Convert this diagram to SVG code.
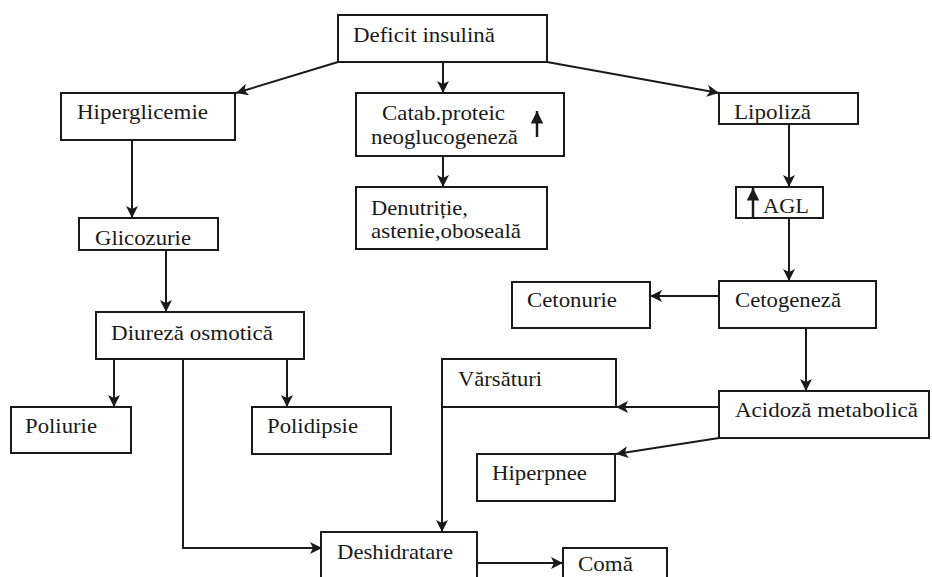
<svg xmlns="http://www.w3.org/2000/svg" width="932" height="577" viewBox="0 0 932 577">
  <style>
    .box { fill: #ffffff; stroke: #1a1a1a; stroke-width: 2; }
    .lbl { font-family: "Liberation Serif", "Times New Roman", serif; font-size: 21px; fill: #1a1a1a; }
    .edge { fill: none; stroke: #1a1a1a; stroke-width: 2; }
    .arr { marker-end: url(#head); }
    .up { fill: none; stroke: #1a1a1a; stroke-width: 2.5; marker-end: url(#headUp); }
  </style>
  <defs>
    <marker id="head" viewBox="0 0 10 10" refX="10" refY="5" markerWidth="6" markerHeight="6" orient="auto" markerUnits="strokeWidth">
      <path d="M0,0 L10,5 L0,10 L2.5,5 z" fill="#1a1a1a"/>
    </marker>
    <marker id="headUp" viewBox="0 0 10 10" refX="10" refY="5" markerWidth="5" markerHeight="5" orient="auto" markerUnits="strokeWidth">
      <path d="M0,0 L10,5 L0,10 z" fill="#1a1a1a"/>
    </marker>
  </defs>
  <rect width="932" height="577" fill="#ffffff"/>

  <!-- connectors -->
  <g id="connectors">
    <line class="edge arr" x1="338" y1="62" x2="236" y2="93"/>
    <line class="edge arr" x1="443" y1="62" x2="443" y2="93"/>
    <line class="edge arr" x1="547" y1="62" x2="719" y2="93"/>
    <line class="edge arr" x1="443" y1="156" x2="443" y2="187"/>
    <line class="edge arr" x1="789" y1="124" x2="789" y2="187"/>
    <line class="edge arr" x1="789" y1="218" x2="789" y2="281"/>
    <line class="edge arr" x1="132" y1="140" x2="132" y2="218"/>
    <line class="edge arr" x1="166" y1="250" x2="166" y2="312"/>
    <line class="edge arr" x1="114" y1="359" x2="114" y2="407"/>
    <line class="edge arr" x1="287" y1="359" x2="287" y2="407"/>
    <polyline class="edge arr" points="183,359 183,548 322,548"/>
    <line class="edge arr" x1="719" y1="296" x2="650" y2="296"/>
    <line class="edge arr" x1="806" y1="328" x2="806" y2="391"/>
    <line class="edge arr" x1="719" y1="407" x2="616" y2="407"/>
    <line class="edge arr" x1="719" y1="438" x2="616" y2="454"/>
    <polyline class="edge arr" points="616,407 442,407 442,532"/>
    <line class="edge arr" x1="477" y1="563" x2="563" y2="563"/>
  </g>

  <g id="deficit-insulina">
    <rect class="box" x="338" y="15" width="209" height="47"/>
    <text class="lbl" x="353" y="42" textLength="142" lengthAdjust="spacingAndGlyphs">Deficit insulină</text>
  </g>

  <g id="hiperglicemie">
    <rect class="box" x="61" y="93" width="174" height="47"/>
    <text class="lbl" x="77" y="119" textLength="131" lengthAdjust="spacingAndGlyphs">Hiperglicemie</text>
  </g>

  <g id="catabolism-proteic">
    <rect class="box" x="356" y="93" width="208" height="63"/>
    <text class="lbl" x="382" y="120" textLength="123" lengthAdjust="spacingAndGlyphs">Catab.proteic</text>
    <text class="lbl" x="371" y="144" textLength="147" lengthAdjust="spacingAndGlyphs">neoglucogeneză</text>
    <line class="up" x1="537" y1="137" x2="537" y2="111"/>
  </g>

  <g id="lipoliza">
    <rect class="box" x="719" y="93" width="139" height="31"/>
    <text class="lbl" x="734" y="119" textLength="77" lengthAdjust="spacingAndGlyphs">Lipoliză</text>
  </g>

  <g id="agl">
    <rect class="box" x="736" y="187" width="87" height="31"/>
    <line class="up" x1="753" y1="218" x2="753" y2="188"/>
    <text class="lbl" x="763" y="213" textLength="46" lengthAdjust="spacingAndGlyphs">AGL</text>
  </g>

  <g id="denutritie">
    <rect class="box" x="356" y="187" width="191" height="62"/>
    <text class="lbl" x="371" y="215" textLength="97" lengthAdjust="spacingAndGlyphs">Denutriție,</text>
    <text class="lbl" x="371" y="238" textLength="150" lengthAdjust="spacingAndGlyphs">astenie,oboseală</text>
  </g>

  <g id="glicozurie">
    <rect class="box" x="79" y="218" width="139" height="32"/>
    <text class="lbl" x="95" y="245" textLength="96" lengthAdjust="spacingAndGlyphs">Glicozurie</text>
  </g>

  <g id="cetonurie">
    <rect class="box" x="512" y="282" width="138" height="46"/>
    <text class="lbl" x="527" y="307" textLength="90" lengthAdjust="spacingAndGlyphs">Cetonurie</text>
  </g>

  <g id="cetogeneza">
    <rect class="box" x="719" y="281" width="157" height="47"/>
    <text class="lbl" x="735" y="307" textLength="106" lengthAdjust="spacingAndGlyphs">Cetogeneză</text>
  </g>

  <g id="diureza-osmotica">
    <rect class="box" x="96" y="312" width="208" height="47"/>
    <text class="lbl" x="111" y="340" textLength="162" lengthAdjust="spacingAndGlyphs">Diureză osmotică</text>
  </g>

  <g id="varsaturi">
    <polyline class="edge" points="442,407 442,359 616,359 616,407"/>
    <text class="lbl" x="458" y="386" textLength="84" lengthAdjust="spacingAndGlyphs">Vărsături</text>
  </g>

  <g id="acidoza-metabolica">
    <rect class="box" x="719" y="391" width="210" height="47"/>
    <text class="lbl" x="735" y="417" textLength="183" lengthAdjust="spacingAndGlyphs">Acidoză metabolică</text>
  </g>

  <g id="poliurie">
    <rect class="box" x="11" y="407" width="120" height="46"/>
    <text class="lbl" x="25" y="433" textLength="72" lengthAdjust="spacingAndGlyphs">Poliurie</text>
  </g>

  <g id="polidipsie">
    <rect class="box" x="252" y="407" width="139" height="47"/>
    <text class="lbl" x="267" y="433" textLength="91" lengthAdjust="spacingAndGlyphs">Polidipsie</text>
  </g>

  <g id="hiperpnee">
    <rect class="box" x="477" y="454" width="138" height="47"/>
    <text class="lbl" x="492" y="480" textLength="95" lengthAdjust="spacingAndGlyphs">Hiperpnee</text>
  </g>

  <g id="deshidratare">
    <rect class="box" x="321" y="532" width="156" height="60"/>
    <text class="lbl" x="337" y="559" textLength="116" lengthAdjust="spacingAndGlyphs">Deshidratare</text>
  </g>

  <g id="coma">
    <rect class="box" x="563" y="548" width="104" height="45"/>
    <text class="lbl" x="578" y="571" textLength="55" lengthAdjust="spacingAndGlyphs">Comă</text>
  </g>
</svg>
